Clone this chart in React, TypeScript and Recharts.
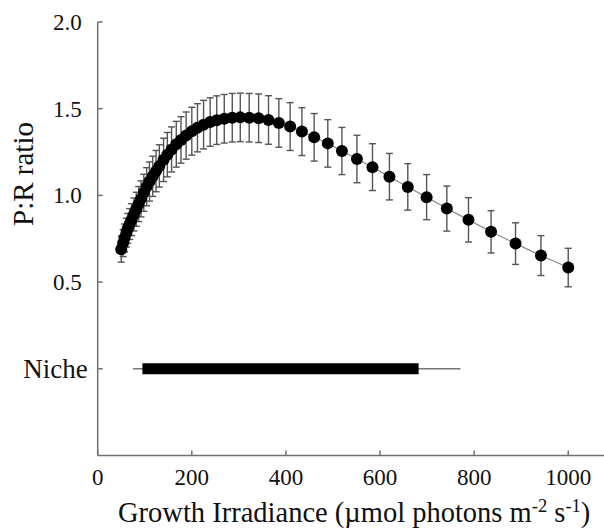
import React from "react";
import {
  LineChart,
  Line,
  XAxis,
  YAxis,
  ErrorBar,
  ReferenceLine,
} from "recharts";

const irradiance = [
  50, 54, 57, 61, 64, 68, 72, 77, 82, 87, 92, 98, 104, 110, 117, 124, 131, 140,
  148, 157, 167, 177, 188, 200, 212, 225, 239, 253, 269, 286, 303, 322, 342,
  363, 385, 409, 434, 460, 489, 519, 551, 584, 620, 659, 699, 742, 788, 836,
  888, 942, 1000,
];

const prRatio = [
  0.69, 0.725, 0.755, 0.785, 0.81, 0.835, 0.86, 0.89, 0.92, 0.95, 0.98, 1.015,
  1.05, 1.08, 1.11, 1.14, 1.17, 1.205, 1.235, 1.265, 1.295, 1.32, 1.345, 1.37,
  1.39, 1.408, 1.423, 1.434, 1.442, 1.448, 1.45, 1.448, 1.445, 1.435, 1.418,
  1.397, 1.368, 1.335, 1.3, 1.256, 1.21, 1.163, 1.108, 1.049, 0.99, 0.924,
  0.859, 0.79, 0.722, 0.653, 0.584,
];

const prError = [
  0.075, 0.078, 0.08, 0.083, 0.086, 0.089, 0.092, 0.095, 0.098, 0.101, 0.104,
  0.107, 0.11, 0.113, 0.116, 0.119, 0.122, 0.125, 0.128, 0.13, 0.132, 0.134,
  0.136, 0.138, 0.139, 0.14, 0.14, 0.14, 0.14, 0.14, 0.14, 0.14, 0.14, 0.14,
  0.14, 0.138, 0.138, 0.137, 0.137, 0.136, 0.137, 0.135, 0.134, 0.134, 0.13,
  0.13, 0.128, 0.122, 0.12, 0.115, 0.111,
];

// niche: full range (thin line) and core range (thick bar)
const nicheRange = [75, 771];
const nicheCore = [95, 682];

const xTicks = [0, 200, 400, 600, 800, 1000];
const yTicks = [0, 0.5, 1, 1.5, 2];

const data = irradiance.map((x, i) => ({ x, y: prRatio[i], err: prError[i] }));

const serif = "'Liberation Serif', 'Times New Roman', serif";
const axisColor = "#6f6f6f";

function YTick({ x, y, payload }: any) {
  if (payload.value === 0) {
    return (
      <text x={x + 6} y={y} dy="0.35em" textAnchor="end" fontSize={27} fontFamily={serif} fill="#111">
        Niche
      </text>
    );
  }
  return (
    <text x={x} y={y} dy="0.35em" textAnchor="end" fontSize={23} fontFamily={serif} fill="#111">
      {payload.value.toFixed(1)}
    </text>
  );
}

function XTick({ x, y, payload }: any) {
  return (
    <text x={x} y={y} dy="0.71em" textAnchor="middle" fontSize={23} fontFamily={serif} fill="#111">
      {payload.value}
    </text>
  );
}

export default function App() {
  return (
    <div style={{ position: "absolute", left: 0, top: 0, width: 604, height: 531, background: "#fff", overflow: "hidden" }}>
      <LineChart
        width={604}
        height={531}
        data={data}
        margin={{ top: 22, right: 0, bottom: 45.5, left: 0 }}
      >
        <XAxis
          type="number"
          dataKey="x"
          domain={[0, 1076]}
          ticks={xTicks}
          height={30}
          tickSize={-5}
          tickMargin={18}
          axisLine={{ stroke: axisColor, strokeWidth: 1.5 }}
          tickLine={{ stroke: axisColor, strokeWidth: 1.5 }}
          tick={<XTick />}
        />
        <YAxis
          type="number"
          domain={[-0.5, 2]}
          ticks={yTicks}
          width={97.7}
          tickSize={-5}
          tickMargin={21}
          axisLine={{ stroke: axisColor, strokeWidth: 1.5 }}
          tickLine={{ stroke: axisColor, strokeWidth: 1.5 }}
          tick={<YTick />}
        />
        <ReferenceLine
          segment={[
            { x: nicheRange[0], y: 0 },
            { x: nicheRange[1], y: 0 },
          ]}
          stroke="#777"
          strokeWidth={1.5}
        />
        <ReferenceLine
          segment={[
            { x: nicheCore[0], y: 0 },
            { x: nicheCore[1], y: 0 },
          ]}
          stroke="#000"
          strokeWidth={11}
        />
        <Line
          dataKey="y"
          stroke="#8a8a8a"
          strokeWidth={1.2}
          dot={{ r: 6, fill: "#000", stroke: "#000", strokeWidth: 0 }}
          activeDot={false}
          isAnimationActive={false}
        >
          <ErrorBar dataKey="err" direction="y" width={3.5} stroke="#555" strokeWidth={1.4} />
        </Line>
      </LineChart>
      <div
        style={{
          position: "absolute",
          left: 23 - 100,
          top: 174 - 15,
          width: 200,
          height: 30,
          lineHeight: "30px",
          textAlign: "center",
          transform: "rotate(-90deg)",
          fontFamily: serif,
          fontSize: 29,
          color: "#111",
          whiteSpace: "nowrap",
        }}
      >
        P:R ratio
      </div>
      <div
        style={{
          position: "absolute",
          left: 118,
          top: 499,
          lineHeight: "28px",
          fontFamily: serif,
          fontSize: 28.5,
          color: "#111",
          whiteSpace: "nowrap",
        }}
      >
        Growth Irradiance (µmol photons m
        <sup style={{ fontSize: "0.65em", lineHeight: 0 }}>-2</sup> s
        <sup style={{ fontSize: "0.65em", lineHeight: 0 }}>-1</sup>)
      </div>
    </div>
  );
}
